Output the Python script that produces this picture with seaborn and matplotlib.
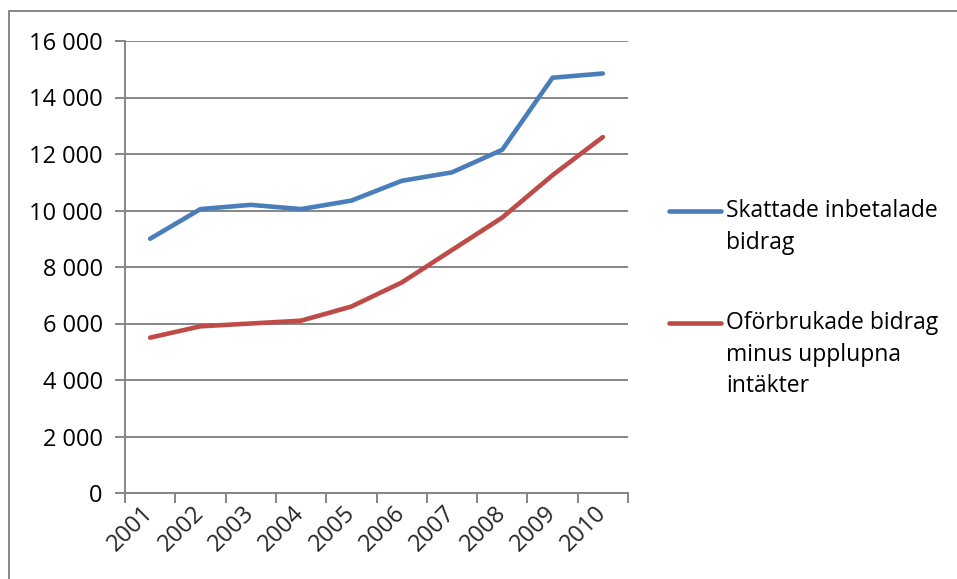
import matplotlib
matplotlib.use("Agg")
import matplotlib.pyplot as plt
import seaborn as sns
import pandas as pd
from matplotlib.lines import Line2D
from matplotlib.patches import Rectangle
from matplotlib.ticker import FuncFormatter, FixedLocator

years = ["2001", "2002", "2003", "2004", "2005", "2006", "2007", "2008", "2009", "2010"]
skattade = [9000, 10050, 10200, 10050, 10350, 11050, 11350, 12150, 14700, 14850]
oforbrukade = [5500, 5900, 6000, 6100, 6600, 7450, 8600, 9750, 11250, 12600]
series_names = ["Skattade inbetalade\nbidrag", "Oförbrukade bidrag\nminus upplupna\nintäkter"]
colors = ["#4A7EBB", "#BE4B48"]
yticks = [0, 2000, 4000, 6000, 8000, 10000, 12000, 14000, 16000]

sns.set_theme(style="white")
plt.rcParams['font.family'] = ['Open Sans', 'DejaVu Sans']

df = pd.DataFrame({
    "pos": list(range(len(years))) * 2,
    "value": skattade + oforbrukade,
    "series": [series_names[0]] * len(years) + [series_names[1]] * len(years),
})

fig = plt.figure(figsize=(9.57, 5.79), dpi=100)
W, H = 957, 579
ax = fig.add_axes([125 / W, 1 - 493 / H, (628 - 125) / W, (493 - 41) / H])

sns.lineplot(data=df, x="pos", y="value", hue="series", palette=colors,
             linewidth=3.3, ax=ax, legend=False, solid_capstyle="round")

ax.set_xlim(-0.5, len(years) - 0.5)
ax.set_ylim(0, 16000)
ax.set_xlabel("")
ax.set_ylabel("")

gc = "#868686"
ax.yaxis.set_major_locator(FixedLocator(yticks))
ax.yaxis.set_major_formatter(FuncFormatter(lambda v, p: f"{int(v):,}".replace(",", " ")))
ax.grid(axis="y", color=gc, linewidth=1.4)
ax.set_axisbelow(True)

for s in ["top", "right"]:
    ax.spines[s].set_visible(False)
for s in ["left", "bottom"]:
    ax.spines[s].set_color(gc)
    ax.spines[s].set_linewidth(1.4)

# category boundary ticks
ax.set_xticks([i - 0.5 for i in range(len(years) + 1)])
ax.set_xticklabels([])
ax.tick_params(axis="x", which="major", direction="out", length=7, width=1.4, color=gc, bottom=True)
ax.set_xticks(list(range(len(years))), minor=True)
ax.set_xticklabels(years, minor=True, rotation=45, ha="right", va="center",
                   rotation_mode="anchor", fontsize=17)
ax.tick_params(axis="x", which="minor", length=0, pad=12)
ax.tick_params(axis="y", direction="out", length=7, width=1.4, color=gc, left=True,
               labelsize=17, pad=9)
for lbl in ax.get_yticklabels():
    lbl.set_color("black")

# legend drawn at the right
leg_items = [(211, series_names[0], colors[0]), (323, series_names[1], colors[1])]
for y, name, c in leg_items:
    yf = 1 - y / H
    fig.add_artist(Line2D([669 / W, 721 / W], [yf, yf], color=c, linewidth=3.3,
                          solid_capstyle="round", transform=fig.transFigure))
    fig.text(726 / W, 1 - (y - 12) / H, name, fontsize=16.5, va="top", ha="left",
             linespacing=1.42, color="black")

# outer chart border
fig.add_artist(Rectangle((9 / W, -0.1), 1.2, 1 - 11 / H + 0.1, fill=False,
                         edgecolor="#868686", linewidth=1.4, transform=fig.transFigure))

fig.savefig("out.png", dpi=100)
